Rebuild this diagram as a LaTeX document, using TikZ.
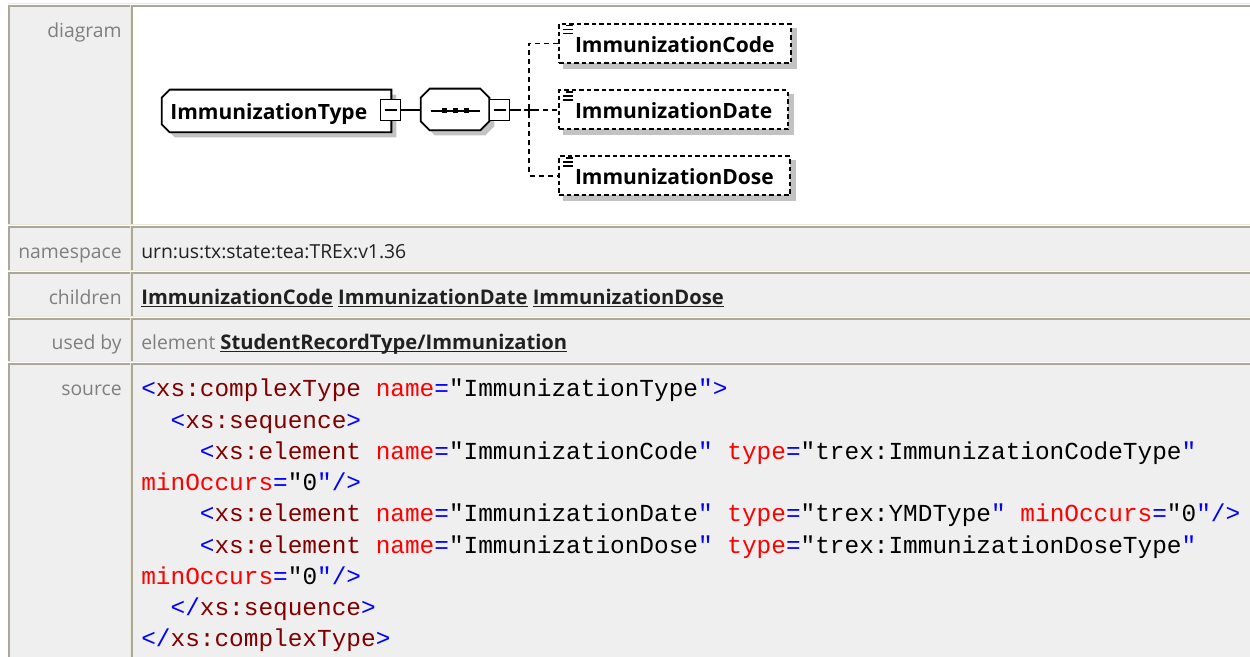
\documentclass[tikz,border=0pt]{standalone}
\usepackage{fontspec}
\setmainfont{Open Sans}
\setmonofont{Liberation Mono}
\usetikzlibrary{calc,positioning}

\definecolor{cellbg}{HTML}{EFEFEF}
\definecolor{celldark}{HTML}{ACA899}
\definecolor{celllight}{HTML}{ECE9D8}
\definecolor{labelgray}{HTML}{7F7F7F}
\definecolor{shadowgray}{HTML}{C2C2C2}
\definecolor{xmlblue}{HTML}{0000FF}
\definecolor{xmltag}{HTML}{800000}
\definecolor{xmlatt}{HTML}{FF0000}

\pgfdeclarelayer{background}
\pgfdeclarelayer{shade}
\pgfsetlayers{background,shade,main}

% xml source colouring
\newcommand{\xb}[1]{\textcolor{xmlblue}{#1}}
\newcommand{\xt}[1]{\textcolor{xmltag}{#1}}
\newcommand{\xa}[1]{\textcolor{xmlatt}{#1}}
\newcommand{\xv}[1]{\textcolor{black}{#1}}
% bold underlined link
\newcommand{\xlink}[1]{{\bfseries\setbox0\hbox{#1}\rlap{\rule[-1.8pt]{\wd0}{0.8pt}}\box0}}
% outlines: node, chamfer, offset
\newcommand{\leftchamfer}[3]{($(#1.north west)+(#2+#3,#3)$) -- ($(#1.north east)+(#3,#3)$)
  -- ($(#1.south east)+(#3,#3)$) -- ($(#1.south west)+(#2+#3,#3)$)
  -- ($(#1.south west)+(#3,#3-#2)$) -- ($(#1.north west)+(#3,#2+#3)$) -- cycle}
\newcommand{\allchamfer}[3]{($(#1.north west)+(#2+#3,#3)$) -- ($(#1.north east)+(#3-#2,#3)$)
  -- ($(#1.north east)+(#3,#2+#3)$) -- ($(#1.south east)+(#3,#3-#2)$)
  -- ($(#1.south east)+(#3-#2,#3)$) -- ($(#1.south west)+(#2+#3,#3)$)
  -- ($(#1.south west)+(#3,#3-#2)$) -- ($(#1.north west)+(#3,#2+#3)$) -- cycle}

\tikzset{
  rowlabel/.style={anchor=east, inner sep=0pt, text=labelgray,
    font=\fontsize{11.6}{14}\selectfont, text height=8.6pt, text depth=2.4pt},
  rowvalue/.style={anchor=west, inner sep=0pt, text=black!87,
    font=\fontsize{11.6}{14}\selectfont, text height=8.6pt, text depth=2.4pt},
  linkfont/.style={font=\fontsize{12.1}{14}\selectfont},
  codeline/.style={anchor=west, inner sep=0pt,
    font=\ttfamily\fontsize{14.65}{18}\selectfont, text height=10.5pt, text depth=3.5pt},
  hull/.style={inner sep=0pt},
  shapeline/.style={draw, line width=1.1pt, fill=white},
  minusbox/.style={draw, line width=1pt, fill=white, inner sep=0pt,
    minimum width=12pt, minimum height=12.6pt,
    path picture={\draw[line width=0.9pt] ([xshift=2.4pt]path picture bounding box.west)
      -- ([xshift=-2.4pt]path picture bounding box.east);}},
  elembox/.style={draw, line width=1.2pt, dash pattern=on 2.7pt off 1.8pt, fill=white,
    anchor=west, inner xsep=9.6pt, inner ysep=0pt, minimum height=23.4pt,
    text height=11.5pt, text depth=1pt, font=\bfseries\fontsize{12.6}{14}\selectfont},
  typelabel/.style={anchor=west, inner sep=0pt, text height=11.5pt, text depth=1pt,
    font=\bfseries\fontsize{12.6}{14}\selectfont},
  listicon/.style={line width=0.9pt},
  solidline/.style={line width=0.9pt},
  dashline/.style={line width=1.1pt, dash pattern=on 3pt off 2.4pt}
}

\begin{document}
\begin{tikzpicture}[x=0.6pt,y=-0.6pt]
  \useasboundingbox (0,0) rectangle (1250,657);

  % table cells
  \begin{pgfonlayer}{background}
  \fill[white] (0,0) rectangle (1250,657);
  \draw[celllight, line width=0.9pt] (8,3.5) -- (1250,3.5);
  \foreach \ya/\yb [count=\r] in {5/224, 226/270, 272/316, 318/361, 363/662} {
    \fill[cellbg] (8,\ya) rectangle (130,\yb);
    \ifnum\r>1 \fill[cellbg] (131,\ya) rectangle (1250,\yb); \fi
    \draw[celllight, line width=0.6pt] (8,\yb+0.5) -- (130,\yb+0.5) -- (130,\ya);
    \draw[celllight, line width=0.6pt] (131,\yb+0.5) -- (1250,\yb+0.5);
    \draw[celldark, line width=1.2pt] (8.5,\yb) -- (8.5,\ya+1) -- (130,\ya+1);
    \draw[celldark, line width=1.2pt] (132,\yb) -- (132,\ya+1) -- (1250,\ya+1);
  }
  \end{pgfonlayer}

  % row labels
  \node[rowlabel] (ldiagram) at (122,32) {diagram};
  \node[rowlabel] (lnamespace) at (122,253) {namespace};
  \node[rowlabel] (lchildren) at (122,299) {children};
  \node[rowlabel] (lusedby) at (122,344) {used by};
  \node[rowlabel] (lsource) at (122,390) {source};

  % row values
  \node[rowvalue] (vnamespace) at (141,253) {urn:us:tx:state:tea:TREx:v1.36};
  \node[rowvalue, linkfont] (vchildren) at (141,299) {\xlink{ImmunizationCode} \xlink{ImmunizationDate} \xlink{ImmunizationDose}};
  \node[rowvalue] (vusedby) at (141,344) {\textcolor{labelgray}{element} {\fontsize{12.1}{14}\selectfont\xlink{StudentRecordType/Immunization}}};

  % complex type box
  \node[hull, minimum width=137.4pt, minimum height=25.2pt] (ctype) at (276.5,111) {};
  \draw[shapeline] \leftchamfer{ctype}{8}{0};
  \node[typelabel] (ctypename) at (170,111) {ImmunizationType};
  \node[minusbox] (tminus) at (390.5,110) {};

  % sequence compositor
  \node[hull, minimum width=40.8pt, minimum height=24.6pt] (seq) at (455,109.5) {};
  \draw[shapeline] \allchamfer{seq}{9}{0};
  \node[minusbox] (sminus) at (499.5,110) {};
  \draw[solidline] (tminus.east) -- (tminus.east -| seq.west);
  \draw[solidline] ([xshift=6pt,yshift=-0.9pt]seq.west) -- ([xshift=-5.4pt,yshift=-0.9pt]seq.east);
  \foreach \sx in {-11,0,11}
    \fill ($(seq.center)+(\sx,1.5)$) +(-2.5,-2.5) rectangle +(2.5,2.5);

  % child elements
  \coordinate (fork) at (529,110);
  \node[elembox] (ecode) at (558,43.5) {ImmunizationCode};
  \node[elembox] (edate) at (558,110) {ImmunizationDate};
  \node[elembox] (edose) at (558,176) {ImmunizationDose};
  \foreach \e in {ecode,edate,edose} {
    \draw[listicon] ([xshift=4.8pt,yshift=-1.5pt]\e.north west) -- +(4.2pt,0);
    \draw[listicon] ([xshift=3pt,yshift=-3.9pt]\e.north west) -- +(6pt,0);
    \draw[listicon] ([xshift=3pt,yshift=-6.3pt]\e.north west) -- +(6pt,0);
  }
  \draw[solidline] (sminus.east) -- ++(6,0) coordinate (sout);
  \draw[dashline] (sout) -- (fork) -- (edate.west);
  \draw[dashline] (ecode.west) -| (fork) |- (edose.west);
  \draw[solidline] ([xshift=-3pt]fork) -- ([xshift=3pt]fork);
  \draw[solidline] ([yshift=-3pt]fork) -- ([yshift=3pt]fork);

  % shadows
  \begin{pgfonlayer}{shade}
  \fill[shadowgray] \leftchamfer{ctype}{8}{5};
  \fill[shadowgray] \allchamfer{seq}{9}{5};
  \foreach \e in {ecode,edate,edose}
    \fill[shadowgray] ($(\e.north west)+(5,5)$) rectangle ($(\e.south east)+(5,5)$);
  \end{pgfonlayer}

  % source listing
  \node[codeline] (code1) at (141,391) {\xb{<}\xt{xs:complexType} \xa{name}\xb{=}\xv{"ImmunizationType}\xb{">}};
  \node[codeline] (code2) at (170.3,422.5) {\xb{<}\xt{xs:sequence}\xb{>}};
  \node[codeline] (code3) at (199.6,454) {\xb{<}\xt{xs:element} \xa{name}\xb{=}\xv{"ImmunizationCode}\xb{"} \xa{type}\xb{=}\xv{"trex:ImmunizationCodeType}\xb{"}};
  \node[codeline] (code4) at (141,485) {\xa{minOccurs}\xb{=}\xv{"0}\xb{"/>}};
  \node[codeline] (code5) at (199.6,516) {\xb{<}\xt{xs:element} \xa{name}\xb{=}\xv{"ImmunizationDate}\xb{"} \xa{type}\xb{=}\xv{"trex:YMDType}\xb{"} \xa{minOccurs}\xb{=}\xv{"0}\xb{"/>}};
  \node[codeline] (code6) at (199.6,547.5) {\xb{<}\xt{xs:element} \xa{name}\xb{=}\xv{"ImmunizationDose}\xb{"} \xa{type}\xb{=}\xv{"trex:ImmunizationDoseType}\xb{"}};
  \node[codeline] (code7) at (141,579) {\xa{minOccurs}\xb{=}\xv{"0}\xb{"/>}};
  \node[codeline] (code8) at (170.3,610) {\xb{</}\xt{xs:sequence}\xb{>}};
  \node[codeline] (code9) at (141,641) {\xb{</}\xt{xs:complexType}\xb{>}};
\end{tikzpicture}
\end{document}
